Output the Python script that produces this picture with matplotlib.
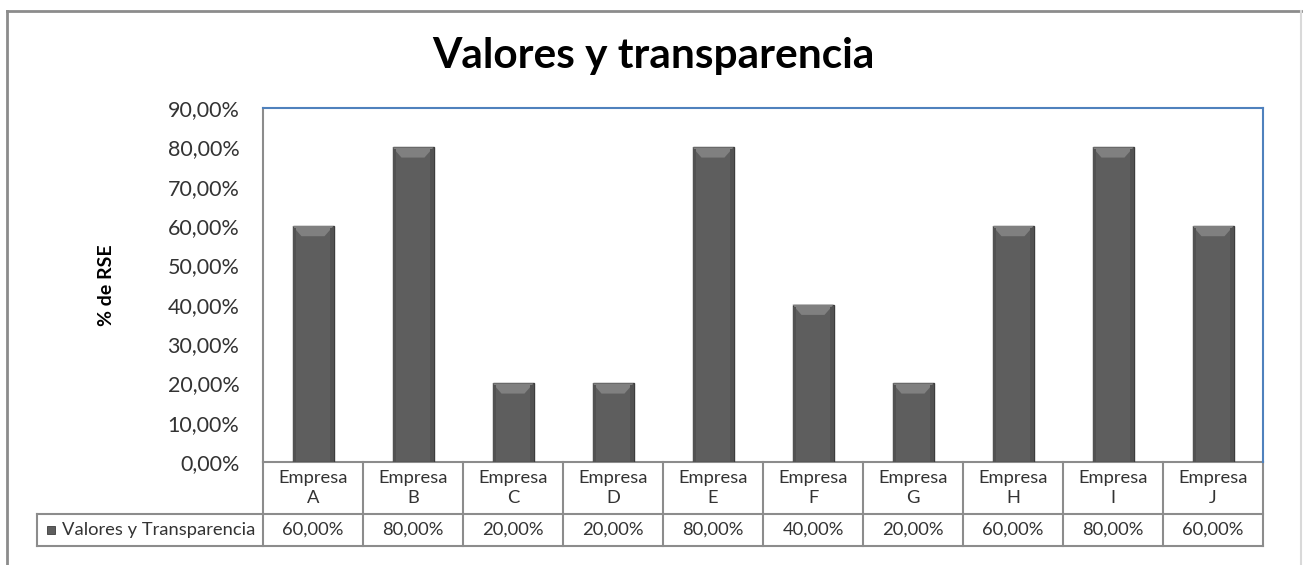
import matplotlib.pyplot as plt
from matplotlib.patches import Polygon, Rectangle
from matplotlib.lines import Line2D
from matplotlib.ticker import FuncFormatter

# Data
empresas = ['A', 'B', 'C', 'D', 'E', 'F', 'G', 'H', 'I', 'J']
valores = [60, 80, 20, 20, 80, 40, 20, 60, 80, 60]
serie = 'Valores y Transparencia'
titulo = 'Valores y transparencia'
eje_y = '% de RSE'

plt.rcParams['font.family'] = ['Lato', 'DejaVu Sans']

fig = plt.figure(figsize=(13.03, 5.65), dpi=100)
ax = fig.add_axes([263 / 1303, 103 / 565, 1000 / 1303, 354 / 565])

x = list(range(len(empresas)))
bar_w = 0.41
ax.bar(x, valores, width=bar_w, color='#5e5e5e', edgecolor='#3c3c3c', linewidth=1.0, zorder=3)

# bevel on the top of each bar
bev_h = 2.6
bev_dx = 0.09
for xi, v in zip(x, valores):
    l, r = xi - bar_w / 2, xi + bar_w / 2
    ax.add_patch(Polygon([(l, v), (r, v), (r - bev_dx, v - bev_h), (l + bev_dx, v - bev_h)],
                         closed=True, facecolor='#808080', edgecolor='none', zorder=4))
    ax.add_patch(Rectangle((l, 0), 0.035, v - 0.5, facecolor='#525252', edgecolor='none', zorder=4))
    ax.add_patch(Rectangle((r - 0.035, 0), 0.035, v - 0.5, facecolor='#525252', edgecolor='none', zorder=4))

ax.set_xlim(-0.5, len(empresas) - 0.5)
ax.set_ylim(0, 90)
ax.set_yticks(range(0, 91, 10))
ax.yaxis.set_major_formatter(FuncFormatter(lambda v, p: f'{v:.2f}'.replace('.', ',') + '%'))
ax.tick_params(axis='y', length=0, pad=17, labelsize=15.5, labelcolor='#333333')
ax.set_xticks([])

for s in ['top', 'right']:
    ax.spines[s].set_color('#4f81bd')
    ax.spines[s].set_linewidth(1.5)
ax.spines['left'].set_color('#8c8c8c')
ax.spines['left'].set_linewidth(1.5)
ax.spines['bottom'].set_visible(False)

ax.set_ylabel(eje_y, fontsize=14, fontweight='bold', labelpad=38)

# data table under the axis
tr = ax.get_xaxis_transform()
y0, y1, y2 = 0.0, -52 / 354, -84 / 354
leg_left = -2.76
gray = '#8c8c8c'
lw = 1.5
n = len(empresas)
ax.add_line(Line2D([-0.5, n - 0.5], [y0, y0], transform=tr, color=gray, lw=lw, clip_on=False))
ax.add_line(Line2D([leg_left, n - 0.5], [y1, y1], transform=tr, color=gray, lw=lw, clip_on=False))
ax.add_line(Line2D([leg_left, n - 0.5], [y2, y2], transform=tr, color=gray, lw=lw, clip_on=False))
ax.add_line(Line2D([leg_left, leg_left], [y1, y2], transform=tr, color=gray, lw=lw, clip_on=False))
for k in range(n + 1):
    ax.add_line(Line2D([k - 0.5, k - 0.5], [y0, y2], transform=tr, color=gray, lw=lw, clip_on=False))

for xi, e, v in zip(x, empresas, valores):
    ax.text(xi, (y0 + y1) / 2, f'Empresa\n{e}', transform=tr, ha='center', va='center',
            fontsize=13.2, color='#333333', linespacing=1.35)
    ax.text(xi, (y1 + y2) / 2, f'{v:.2f}'.replace('.', ',') + '%', transform=tr,
            ha='center', va='center', fontsize=13.2, color='#333333')

ax.add_patch(Rectangle((leg_left + 0.1, (y1 + y2) / 2 - 0.012), 0.08, 0.024, transform=tr,
                       facecolor='#5e5e5e', edgecolor='#3c3c3c', lw=0.6, clip_on=False))
ax.text(leg_left + 0.25, (y1 + y2) / 2, serie, transform=tr, ha='left', va='center',
        fontsize=13.2, color='#333333')

# title and outer chart frame
fig.text(653 / 1303, 1 - 56 / 565, titulo, ha='center', va='center', fontsize=30.5, fontweight='bold')
fig.add_artist(Line2D([7 / 1303, 7 / 1303], [0, 1 - 11 / 565], color='#8c8c8c', lw=2))
fig.add_artist(Line2D([7 / 1303, 1301 / 1303], [1 - 11 / 565, 1 - 11 / 565], color='#8c8c8c', lw=2))
fig.add_artist(Line2D([1301 / 1303, 1301 / 1303], [0, 1 - 11 / 565], color='#d9d9d9', lw=1.5))

fig.savefig('out.png', dpi=100)
